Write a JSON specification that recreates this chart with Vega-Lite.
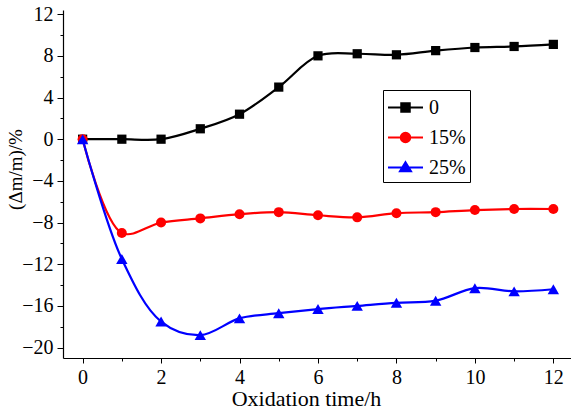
{
  "$schema": "https://vega.github.io/schema/vega-lite/v6.json",
  "width": 508,
  "height": 348,
  "autosize": {"type": "none"},
  "padding": {"left": 63, "top": 10, "right": 0, "bottom": 58},
  "background": "white",
  "config": {
    "view": {"stroke": null},
    "font": "Liberation Serif",
    "axis": {
      "domainColor": "black", "domainWidth": 1.2, "tickColor": "black", "tickWidth": 1,
      "labelColor": "black", "titleColor": "black", "labelFont": "Liberation Serif",
      "titleFont": "Liberation Serif", "labelFontSize": 20, "titleFontSize": 20,
      "titleFontWeight": "normal", "grid": false, "labelPadding": 4
    }
  },
  "data": {"values": [
    {"t": 0, "v": 0, "s": "0"}, {"t": 1, "v": 0, "s": "0"}, {"t": 2, "v": 0, "s": "0"},
    {"t": 3, "v": 1, "s": "0"}, {"t": 4, "v": 2.4, "s": "0"}, {"t": 5, "v": 5, "s": "0"},
    {"t": 6, "v": 8, "s": "0"}, {"t": 7, "v": 8.2, "s": "0"}, {"t": 8, "v": 8.1, "s": "0"},
    {"t": 9, "v": 8.5, "s": "0"}, {"t": 10, "v": 8.8, "s": "0"}, {"t": 11, "v": 8.9, "s": "0"},
    {"t": 12, "v": 9.1, "s": "0"},
    {"t": 0, "v": 0, "s": "15%"}, {"t": 1, "v": -9, "s": "15%"}, {"t": 2, "v": -8, "s": "15%"},
    {"t": 3, "v": -7.6, "s": "15%"}, {"t": 4, "v": -7.2, "s": "15%"}, {"t": 5, "v": -7, "s": "15%"},
    {"t": 6, "v": -7.3, "s": "15%"}, {"t": 7, "v": -7.5, "s": "15%"}, {"t": 8, "v": -7.1, "s": "15%"},
    {"t": 9, "v": -7, "s": "15%"}, {"t": 10, "v": -6.8, "s": "15%"}, {"t": 11, "v": -6.7, "s": "15%"},
    {"t": 12, "v": -6.7, "s": "15%"},
    {"t": 0, "v": 0, "s": "25%"}, {"t": 1, "v": -11.5, "s": "25%"}, {"t": 2, "v": -17.5, "s": "25%"},
    {"t": 3, "v": -18.8, "s": "25%"}, {"t": 4, "v": -17.2, "s": "25%"}, {"t": 5, "v": -16.7, "s": "25%"},
    {"t": 6, "v": -16.3, "s": "25%"}, {"t": 7, "v": -16, "s": "25%"}, {"t": 8, "v": -15.7, "s": "25%"},
    {"t": 9, "v": -15.5, "s": "25%"}, {"t": 10, "v": -14.3, "s": "25%"}, {"t": 11, "v": -14.6, "s": "25%"},
    {"t": 12, "v": -14.4, "s": "25%"}
  ]},
  "encoding": {
    "x": {"field": "t", "type": "quantitative",
      "scale": {"domain": [-0.5, 12.45], "nice": false, "zero": false},
      "axis": {"title": "Oxidation time/h", "values": [0,1,2,3,4,5,6,7,8,9,10,11,12],
        "labelExpr": "datum.value % 2 === 0 ? datum.label : ''",
        "tickSize": {"condition": {"test": "datum.value % 2 !== 0", "value": 3}, "value": 5},
        "titleFontSize": 22, "titleX": 243,
        "titlePadding": 1, "labelFlush": false, "labelOverlap": false}},
    "y": {"field": "v", "type": "quantitative",
      "scale": {"domain": [-21, 12.4], "nice": false, "zero": false},
      "axis": {"title": "(Δm/m)/%", "values": [-20,-18,-16,-14,-12,-10,-8,-6,-4,-2,0,2,4,6,8,10,12],
        "labelExpr": "datum.value % 4 === 0 ? datum.label : ''",
        "tickSize": {"condition": {"test": "datum.value % 4 !== 0", "value": 3}, "value": 6},
        "titleFontSize": 19, "titleX": -38, "titleY": 159, "titleBaseline": "bottom",
        "titlePadding": 0, "labelOverlap": false}},
    "color": {"field": "s", "type": "nominal",
      "scale": {"domain": ["0", "15%", "25%"], "range": ["#000000", "#ff0000", "#0000ff"]},
      "legend": {"title": null, "orient": "none", "legendX": 320, "legendY": 80,
        "strokeColor": "black", "padding": 4, "symbolSize": 625, "symbolStrokeWidth": 2,
        "symbolType": "circle",
        "labelFontSize": 20, "labelFont": "Liberation Serif", "labelColor": "black",
        "labelOffset": 10, "rowPadding": 6, "symbolOffset": 5,
        "encode": {"symbols": {"update": {
          "shape": {"signal": "datum.value === '0' ? 'M-1.4,0L1.4,0M-0.34,-0.34L0.34,-0.34L0.34,0.34L-0.34,0.34Z' : datum.value === '15%' ? 'M-1.4,0L1.4,0M-0.38,0A0.38,0.38,0,1,0,0.38,0A0.38,0.38,0,1,0,-0.38,0Z' : 'M-1.4,0L1.4,0M0,-0.42L0.44,0.3L-0.44,0.3Z'"},
          "size": {"value": 625},
          "fill": {"signal": "datum.value === '0' ? '#000000' : datum.value === '15%' ? '#ff0000' : '#0000ff'"},
          "stroke": {"signal": "datum.value === '0' ? '#000000' : datum.value === '15%' ? '#ff0000' : '#0000ff'"},
          "opacity": {"value": 1}, "fillOpacity": {"value": 1}, "strokeOpacity": {"value": 1}
        }}}}
    }
  },
  "layer": [
    {"mark": {"type": "line", "interpolate": "catmull-rom", "strokeWidth": 2.2}},
    {"mark": {"type": "point", "filled": true, "opacity": 1},
     "encoding": {
       "shape": {"condition": [{"test": "datum.s === '0'", "value": "square"},
                               {"test": "datum.s === '15%'", "value": "circle"}],
                 "value": "triangle-up"},
       "size": {"condition": [{"test": "datum.s === '0'", "value": 85},
                              {"test": "datum.s === '15%'", "value": 100}],
                "value": 130}
     }}
  ]
}
